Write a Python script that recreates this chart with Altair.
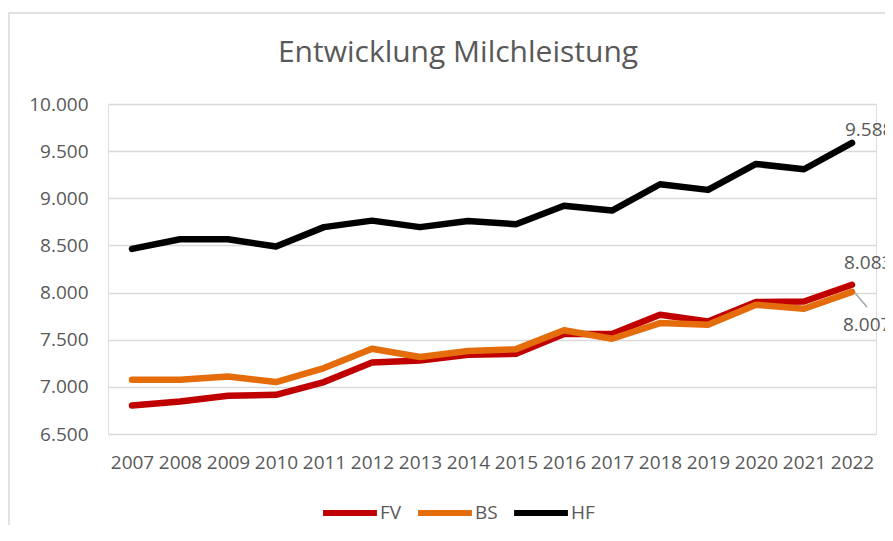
import altair as alt
import pandas as pd

years = [2007, 2008, 2009, 2010, 2011, 2012, 2013, 2014, 2015, 2016, 2017, 2018, 2019, 2020, 2021, 2022]
fv = [6803, 6845, 6906, 6916, 7051, 7259, 7280, 7340, 7350, 7560, 7560, 7764, 7693, 7899, 7905, 8083]
bs = [7075, 7075, 7110, 7051, 7199, 7404, 7316, 7380, 7400, 7600, 7510, 7676, 7658, 7870, 7828, 8007]
hf = [8463, 8566, 8566, 8488, 8694, 8763, 8694, 8760, 8725, 8920, 8870, 9149, 9089, 9364, 9308, 9588]
series = ["FV", "BS", "HF"]
colors = ["#C00000", "#E46C0A", "#000000"]
y_ticks = [6500, 7000, 7500, 8000, 8500, 9000, 9500, 10000]

rows = []
for name, vals in zip(series, [fv, bs, hf]):
    for yr, v in zip(years, vals):
        rows.append({"Jahr": str(yr), "Serie": name, "Wert": v, "order": series.index(name)})
df = pd.DataFrame(rows)

GREY = "#595959"
FONT = "Open Sans"

x_enc = alt.X("Jahr:O", scale=alt.Scale(type="point", padding=0.5),
              axis=alt.Axis(title=None, labelAngle=0, labelFontSize=19, labelColor=GREY,
                            labelFont=FONT, domain=False, ticks=False, grid=False,
                            labelPadding=19))
y_enc = alt.Y("Wert:Q", scale=alt.Scale(domain=[6500, 10000], nice=False, zero=False),
              axis=alt.Axis(title=None, values=y_ticks, labelFontSize=19, labelColor=GREY,
                            labelFont=FONT, domain=False, ticks=False, grid=True,
                            gridColor="#D9D9D9", gridWidth=1.5, labelPadding=20,
                            labelExpr="replace(format(datum.value, ',.0f'), ',', '.')"))
color_enc = alt.Color("Serie:N", scale=alt.Scale(domain=series, range=colors),
                      legend=alt.Legend(title=None, orient="none", direction="horizontal",
                                        legendX=212, legendY=379, symbolType="stroke",
                                        symbolStrokeWidth=6, symbolSize=2900,
                                        labelFontSize=19, labelColor=GREY, labelFont=FONT,
                                        labelOffset=0, columnPadding=4, padding=0))

base = alt.Chart(df)

border = alt.Chart(pd.DataFrame({"a": [0]})).mark_rect(
    fill=None, stroke="#D9D9D9", strokeWidth=1.5, clip=False
).encode(x=alt.value(-99), x2=alt.value(800), y=alt.value(-91), y2=alt.value(440))

lines = base.mark_line(strokeWidth=6.5, strokeCap="round", strokeJoin="round").encode(
    x=x_enc, y=y_enc, color=color_enc, detail="Serie:N", order="order:Q"
)

last = df[df["Jahr"] == "2022"].copy()
last["label"] = last["Wert"].map(lambda v: f"{v:,}".replace(",", "."))

lab_hf = alt.Chart(last[last["Serie"] == "HF"]).mark_text(
    align="left", baseline="middle", dx=-7, dy=-13, fontSize=19, font=FONT, color=GREY
).encode(x="Jahr:O", y="Wert:Q", text="label:N")
lab_fv = alt.Chart(last[last["Serie"] == "FV"]).mark_text(
    align="left", baseline="middle", dx=-8, dy=-22, fontSize=19, font=FONT, color=GREY
).encode(x="Jahr:O", y="Wert:Q", text="label:N")
lab_bs = alt.Chart(last[last["Serie"] == "BS"]).mark_text(
    align="left", baseline="middle", dx=-9, dy=33, fontSize=19, font=FONT, color=GREY
).encode(x="Jahr:O", y="Wert:Q", text="label:N")
leader = alt.Chart(last[last["Serie"] == "BS"]).mark_rule(
    color="#A6A6A6", strokeWidth=1.5, xOffset=3, yOffset=1, x2Offset=15, y2Offset=15
).encode(x="Jahr:O", x2="Jahr:O", y="Wert:Q", y2="Wert:Q")

chart = alt.layer(border, lines, leader, lab_hf, lab_fv, lab_bs).properties(
    width=768, height=330,
    title=alt.Title("Entwicklung Milchleistung", fontSize=30, font=FONT, color=GREY,
                    fontWeight="normal", anchor="middle", dx=-34, dy=80, offset=0,
                    baseline="alphabetic"),
    autosize=alt.AutoSizeParams(type="none"),
    padding={"left": 100, "top": 96, "right": 9, "bottom": 91},
).configure_view(stroke=None).configure(background="white")

chart.save("out.html", embed_options={"renderer": "svg", "actions": False})
